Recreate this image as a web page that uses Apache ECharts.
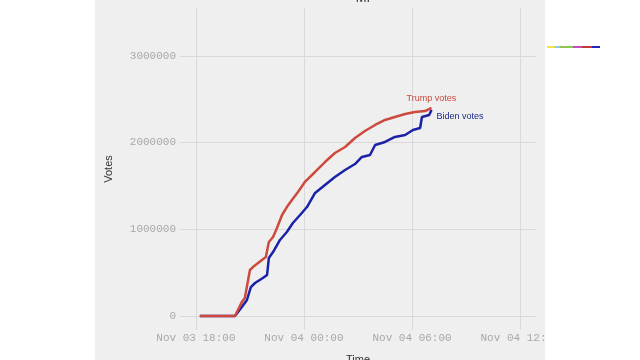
<!DOCTYPE html>
<html><head><meta charset="utf-8">
<script src="https://cdn.jsdelivr.net/npm/echarts@6/dist/echarts.min.js"></script>
<style>html,body{margin:0;padding:0;background:#fff}#c{width:640px;height:360px}</style>
</head><body><div id="c"></div>
<script>
const chartTitle = 'MI';
const trumpTimes = ['2020-11-03T18:13','2020-11-03T20:10','2020-11-03T20:33','2020-11-03T20:43','2020-11-03T21:00','2020-11-03T21:10','2020-11-03T21:40','2020-11-03T21:53','2020-11-03T22:03','2020-11-03T22:17','2020-11-03T22:30','2020-11-03T22:47','2020-11-03T23:03','2020-11-03T23:20','2020-11-03T23:40','2020-11-04T00:03','2020-11-04T00:37','2020-11-04T01:10','2020-11-04T01:43','2020-11-04T02:17','2020-11-04T02:50','2020-11-04T03:23','2020-11-04T03:57','2020-11-04T04:30','2020-11-04T05:03','2020-11-04T05:37','2020-11-04T06:10','2020-11-04T06:43','2020-11-04T07:05'];
const trumpVotes = [0,0,161000,208000,531000,565000,646000,680000,854000,911000,1015000,1165000,1257000,1338000,1430000,1546000,1661000,1776000,1880000,1949000,2053000,2134000,2203000,2261000,2295000,2330000,2353000,2364000,2399000];
const bidenTimes = ['2020-11-03T18:13','2020-11-03T20:10','2020-11-03T20:33','2020-11-03T20:50','2020-11-03T21:03','2020-11-03T21:17','2020-11-03T21:43','2020-11-03T21:57','2020-11-03T22:03','2020-11-03T22:17','2020-11-03T22:40','2020-11-03T23:03','2020-11-03T23:23','2020-11-03T23:47','2020-11-04T00:10','2020-11-04T00:37','2020-11-04T01:10','2020-11-04T01:43','2020-11-04T02:17','2020-11-04T02:50','2020-11-04T03:13','2020-11-04T03:40','2020-11-04T03:57','2020-11-04T04:30','2020-11-04T05:03','2020-11-04T05:37','2020-11-04T06:03','2020-11-04T06:27','2020-11-04T06:33','2020-11-04T06:57','2020-11-04T07:05'];
const bidenVotes = [0,0,104000,185000,334000,381000,438000,473000,669000,738000,877000,969000,1073000,1165000,1257000,1419000,1511000,1603000,1684000,1753000,1834000,1857000,1972000,2007000,2065000,2088000,2145000,2168000,2295000,2318000,2376000];
const xTickTimes = ['2020-11-03T18:00','2020-11-04T00:00','2020-11-04T06:00','2020-11-04T12:00'];
const yTicks = [0,1000000,2000000,3000000];
const xRange = ['2020-11-03T17:07','2020-11-04T12:53'];
const yRange = [-161000, 3552000];

const t = s => Date.parse(s + ':00Z');
const MON = ['Jan','Feb','Mar','Apr','May','Jun','Jul','Aug','Sep','Oct','Nov','Dec'];
const p2 = n => (n < 10 ? '0' : '') + n;
function fmt(v){const d=new Date(v);return MON[d.getUTCMonth()]+' '+p2(d.getUTCDate())+' '+p2(d.getUTCHours())+':'+p2(d.getUTCMinutes());}

const chart = echarts.init(document.getElementById('c'), null, {renderer:'canvas'});
const mono = '"Liberation Mono", "DejaVu Sans Mono", monospace';
const sans = '"Liberation Sans", Arial, sans-serif';
chart.setOption({
  animation:false,
  backgroundColor:'#ffffff',
  graphic:[
    {type:'rect', z:-10, shape:{x:95,y:0,width:450,height:360}, style:{fill:'#efefef'}},
    {type:'rect', z:100, shape:{x:545,y:0,width:95,height:360}, style:{fill:'#ffffff'}},
    {type:'rect', z:101, shape:{x:547,y:46,width:8,height:2}, style:{fill:'#f2e24a'}},
    {type:'rect', z:101, shape:{x:555,y:46,width:5,height:2}, style:{fill:'#86cdea'}},
    {type:'rect', z:101, shape:{x:560,y:46,width:13,height:2}, style:{fill:'#8cc84e'}},
    {type:'rect', z:101, shape:{x:573,y:46,width:9,height:2}, style:{fill:'#c44ac4'}},
    {type:'rect', z:101, shape:{x:582,y:46,width:10,height:2}, style:{fill:'#c4383a'}},
    {type:'rect', z:101, shape:{x:592,y:46,width:8,height:2}, style:{fill:'#2227b8'}}
  ],
  title:{text:chartTitle, left:358, top:-13, textAlign:'center', textStyle:{fontFamily:sans, fontSize:13, fontWeight:'normal', color:'#333'}},
  grid:{left:180, right:104, top:8, bottom:30, outerBoundsMode:'none', containLabel:false},
  xAxis:{
    type:'value', min:t(xRange[0]), max:t(xRange[1]),
    name:'Time', nameLocation:'middle', nameGap:24,
    nameTextStyle:{fontFamily:sans, fontSize:11, color:'#333'},
    axisLine:{show:false}, axisTick:{show:false, customValues:xTickTimes.map(t)},
    axisLabel:{customValues:xTickTimes.map(t), formatter:fmt, fontFamily:mono, fontSize:11, color:'#a8a8a8', margin:3, hideOverlap:false},
    splitLine:{show:true, lineStyle:{color:'#d9d9d9', width:1}}
  },
  yAxis:{
    type:'value', min:yRange[0], max:yRange[1],
    name:'Votes', nameLocation:'middle', nameGap:66, nameRotate:90,
    nameTextStyle:{fontFamily:sans, fontSize:11, color:'#333'},
    axisLine:{show:false}, axisTick:{show:false, customValues:yTicks},
    axisLabel:{customValues:yTicks, formatter:v=>String(v), fontFamily:mono, fontSize:11, color:'#a8a8a8', margin:4},
    splitLine:{show:true, lineStyle:{color:'#d9d9d9', width:1}}
  },
  series:[
    {type:'line', name:'Trump votes', data:trumpTimes.map((s,i)=>[t(s),trumpVotes[i]]), showSymbol:false, z:3,
     lineStyle:{color:'#cc4a3e', width:2.5}, itemStyle:{color:'#cc4a3e'},
     endLabel:{show:true, formatter:'Trump votes', distance:4, offset:[-29,-9], color:'#c8483c', fontFamily:sans, fontSize:9}},
    {type:'line', name:'Biden votes', data:bidenTimes.map((s,i)=>[t(s),bidenVotes[i]]), showSymbol:false, z:2,
     lineStyle:{color:'#1a22a6', width:2.5}, itemStyle:{color:'#1a22a6'},
     endLabel:{show:true, formatter:'Biden votes', distance:5, offset:[0,7], color:'#1c2a8a', fontFamily:sans, fontSize:9}}
  ]
});
</script></body></html>
